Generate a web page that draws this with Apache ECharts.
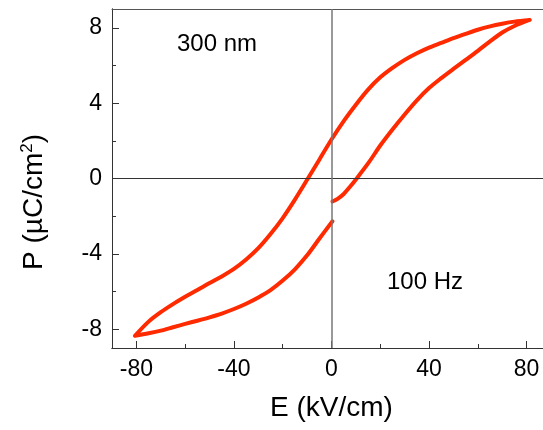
<!DOCTYPE html>
<html>
<head>
<meta charset="utf-8">
<script src="https://cdn.jsdelivr.net/npm/echarts@6/dist/echarts.min.js"></script>
<style>
  html, body { margin: 0; padding: 0; background: #fff; overflow: hidden; }
  /* plot frame runs past the right edge of the picture, so the canvas is a bit wider */
  #chart { width: 551px; height: 430px; }
</style>
</head>
<body>
<div id="chart"></div>
<script>
// loop traced in drawing order: rising branch, falling branch, rising again
const fieldE = [
  0.4, 2.5, 5, 7.5, 10, 15, 20, 25, 30, 35, 40, 45, 50, 55, 60, 65, 70, 75, 81.3,
  75, 70, 65, 60, 55, 50, 45, 40, 35, 30, 25, 20, 15, 10, 5, 0,
  -5, -10, -15, -20, -25, -30, -35, -40, -45, -50, -55, -60, -65, -70, -75, -80.6,
  -75, -70, -65, -60, -55, -50, -45, -40, -35, -30, -25, -20, -15, -10, -5, 0.4
]
const polP = [
  -1.22, -1.08, -0.82, -0.45, -0.05, 0.8, 1.75, 2.6, 3.4, 4.15, 4.8, 5.33, 5.82, 6.3, 6.78, 7.28, 7.75, 8.1, 8.42,
  8.33, 8.22, 8.08, 7.9, 7.68, 7.45, 7.2, 6.95, 6.65, 6.3, 5.87, 5.37, 4.72, 3.92, 3.05, 2.07,
  1.0, -0.07, -1.12, -2.1, -2.95, -3.7, -4.3, -4.8, -5.2, -5.55, -5.92, -6.28, -6.67, -7.1, -7.6, -8.35,
  -8.22, -8.08, -7.9, -7.72, -7.55, -7.37, -7.17, -6.93, -6.65, -6.32, -5.93, -5.42, -4.82, -4.08, -3.2, -2.27
]
const xMajorTicks = [-80, -40, 0, 40, 80]
const xMinorTicks = [-60, -20, 20, 60]
const yMajorTicks = [-8, -4, 0, 4, 8]
const yMinorTicks = [-6, -2, 2, 6]

const font = 'Liberation Sans, Arial, sans-serif'
const axisColor = '#333'

const chart = echarts.init(document.getElementById('chart'), null, { renderer: 'canvas' })

const baseX = {
  type: 'value', min: -90, max: 90, position: 'bottom',
  splitLine: { show: false },
  axisLine: { onZero: false, lineStyle: { color: axisColor, width: 1 } }
}
const baseY = {
  type: 'value', min: -9, max: 9, position: 'left',
  splitLine: { show: false },
  axisLine: { onZero: false, lineStyle: { color: axisColor, width: 1 } }
}

const option = {
  animation: false,
  backgroundColor: '#fff',
  grid: { left: 112, top: 9, right: 0, bottom: 82 },
  xAxis: [
    {
      ...baseX,
      name: 'E (kV/cm)',
      nameLocation: 'middle',
      nameGap: 46,
      nameTextStyle: { fontFamily: font, fontSize: 28, color: '#000' },
      axisTick: { inside: true, length: 7, customValues: xMajorTicks, lineStyle: { color: axisColor } },
      axisLabel: { customValues: xMajorTicks, margin: 10, fontFamily: font, fontSize: 23, color: '#000' }
    },
    {
      ...baseX,
      axisTick: { inside: true, length: 4, customValues: xMinorTicks, lineStyle: { color: axisColor } },
      axisLabel: { show: false }
    },
    {
      ...baseX,
      position: 'top',
      axisLine: { onZero: false, lineStyle: { color: '#555', width: 1 } },
      axisTick: { show: false },
      axisLabel: { show: false }
    }
  ],
  yAxis: [
    {
      ...baseY,
      name: 'P (µC/cm{sup|2})',
      nameLocation: 'middle',
      nameGap: 62,
      nameTextStyle: {
        fontFamily: font, fontSize: 28, color: '#000',
        padding: [0, 47, 0, 0],
        rich: {
          sup: { fontFamily: font, fontSize: 17, color: '#000', verticalAlign: 'top', padding: [0, 0, 14, 0] }
        }
      },
      axisTick: { inside: true, length: 7, customValues: yMajorTicks, lineStyle: { color: axisColor } },
      axisLabel: { customValues: yMajorTicks, margin: 10, fontFamily: font, fontSize: 23, color: '#000' }
    },
    {
      ...baseY,
      axisTick: { inside: true, length: 4, customValues: yMinorTicks, lineStyle: { color: axisColor } },
      axisLabel: { show: false }
    }
  ],
  graphic: [
    { type: 'text', left: 177, top: 32, style: { text: '300 nm', font: '24px ' + font, fill: '#000' } },
    { type: 'text', left: 387, top: 270, style: { text: '100 Hz', font: '24px ' + font, fill: '#000' } }
  ],
  series: [
    {
      type: 'line',
      data: [],
      z: 1,
      silent: true,
      markLine: {
        silent: true,
        symbol: 'none',
        label: { show: false },
        data: [
          { yAxis: 0, lineStyle: { color: '#333', width: 1, type: 'solid' } },
          { xAxis: 0, lineStyle: { color: '#777', width: 1.5, type: 'solid' } }
        ]
      }
    },
    {
      type: 'line',
      z: 3,
      data: fieldE.map((e, i) => [e, polP[i]]),
      showSymbol: false,
      smooth: 0.3,
      lineStyle: { color: '#ff2a00', width: 4, cap: 'round', join: 'round' }
    }
  ]
}

chart.setOption(option)
</script>
</body>
</html>
